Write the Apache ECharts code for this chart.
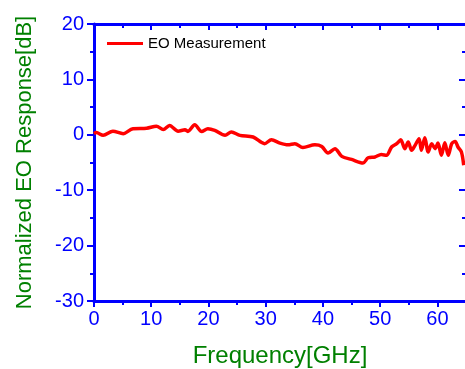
<!DOCTYPE html>
<html>
<head>
<meta charset="utf-8">
<title>EO Response</title>
<script src="https://cdn.jsdelivr.net/npm/echarts@6/dist/echarts.min.js"></script>
<style>
  html, body { margin: 0; padding: 0; background: #fff; }
  #main { width: 465px; height: 369px; }
</style>
</head>
<body>
<div id="main"></div>
<script>
// 频率 (GHz) 和 归一化响应 (dB)，从图上读出来的
const freq = [0, 0.4, 1.6, 3.3, 5.1, 6.8, 9.2, 10.9, 12.1, 13.2, 14.7, 15.9, 16.4, 17.6, 18.8, 19.9,
  21.1, 22.9, 24.0, 25.5, 27.8, 29.8, 31.0, 32.5, 33.9, 35.1, 36.5, 38.6, 39.8, 40.9, 42.1, 43.3,
  45.0, 47.0, 47.9, 49.1, 50.2, 51.1, 52.0, 52.9, 53.6, 54.3, 54.9, 55.5, 56.1, 56.8, 57.2, 57.8,
  58.4, 59.0, 59.6, 60.1, 60.7, 61.3, 61.9, 62.5, 63.1, 63.6, 64.2, 64.6];
const response = [0.2, 0.4, -0.1, 0.65, 0.2, 1.1, 1.2, 1.55, 0.95, 1.7, 0.65, 0.9, 0.6, 1.8, 0.6, 1.1,
  0.8, -0.1, 0.5, -0.1, -0.4, -1.6, -0.9, -1.5, -1.8, -1.6, -2.3, -1.8, -2.1, -3.3, -2.5, -3.9,
  -4.45, -5.1, -4.15, -4.0, -3.55, -3.7, -2.2, -1.6, -0.9, -2.5, -1.3, -2.8, -1.9, -0.7, -2.8, -0.55,
  -3.1, -1.6, -2.5, -1.5, -3.7, -1.45, -3.7, -1.6, -1.2, -2.2, -3.1, -5.5];
const seriesName = 'EO Measurement';
const xTitle = 'Frequency[GHz]';
const yTitle = 'Normalized EO Response[dB]';

const blue = '#0000ff';
const green = '#008000';
const font = 'Liberation Sans, Arial, sans-serif';

let data = [];
for (let i = 0; i < freq.length; i++) {
  data.push([freq[i], response[i]]);
}

// x轴: 主刻度 10, 次刻度 5 用一根叠加的轴画
function xAxisOf(pos, step, tickLen, inside, withLine, withLabel) {
  return {
    type: 'value', position: pos, min: 0, max: 65, interval: step,
    axisLine: { show: withLine, onZero: false, lineStyle: { color: blue, width: 3 } },
    axisTick: { show: true, inside: inside, length: tickLen, lineStyle: { color: blue, width: 2 } },
    axisLabel: withLabel ? {
      show: true, color: blue, fontSize: 20, fontFamily: font, margin: 8, showMaxLabel: false
    } : { show: false },
    splitLine: { show: false },
    name: withLabel ? xTitle : '',
    nameLocation: 'middle',
    nameGap: 43,
    nameTextStyle: { color: green, fontSize: 24, fontFamily: font }
  };
}

function yAxisOf(pos, inside, withLabel) {
  return {
    type: 'value', position: pos, min: -30, max: 20, interval: 10,
    axisLine: { show: true, onZero: false, lineStyle: { color: blue, width: 3 } },
    axisTick: { show: true, inside: inside, length: 7, lineStyle: { color: blue, width: 2 } },
    minorTick: { show: true, splitNumber: 2, length: 4, lineStyle: { color: blue, width: 2 } },
    axisLabel: withLabel ? { show: true, color: blue, fontSize: 20, fontFamily: font, margin: 10 } : { show: false },
    splitLine: { show: false },
    name: withLabel ? yTitle : '',
    nameLocation: 'middle',
    nameGap: 58,
    nameTextStyle: { color: green, fontSize: 22, fontFamily: font }
  };
}

const chart = echarts.init(document.getElementById('main'), null, { renderer: 'canvas' });
const option = {
  backgroundColor: '#fff',
  animation: false,
  grid: { left: 94, right: -1, top: 24, bottom: 68, outerBoundsMode: 'none' },
  legend: {
    data: [seriesName],
    left: 107, top: 36, padding: 0,
    icon: 'rect', itemWidth: 36, itemHeight: 3, itemGap: 4,
    textStyle: { color: '#000', fontSize: 15, fontFamily: font }
  },
  xAxis: [
    xAxisOf('bottom', 10, 6, false, true, true),
    xAxisOf('bottom', 5, 4, false, false, false),
    xAxisOf('top', 10, 6, true, true, false),
    xAxisOf('top', 5, 4, true, false, false)
  ],
  yAxis: [
    yAxisOf('left', false, true),
    yAxisOf('right', true, false)
  ],
  series: [{
    name: seriesName,
    type: 'line',
    xAxisIndex: 0,
    yAxisIndex: 0,
    data: data,
    showSymbol: false,
    symbol: 'none',
    smooth: 0.3,
    itemStyle: { color: '#ff0000' },
    lineStyle: { color: '#ff0000', width: 3.5 }
  }]
};
chart.setOption(option);
</script>
</body>
</html>
